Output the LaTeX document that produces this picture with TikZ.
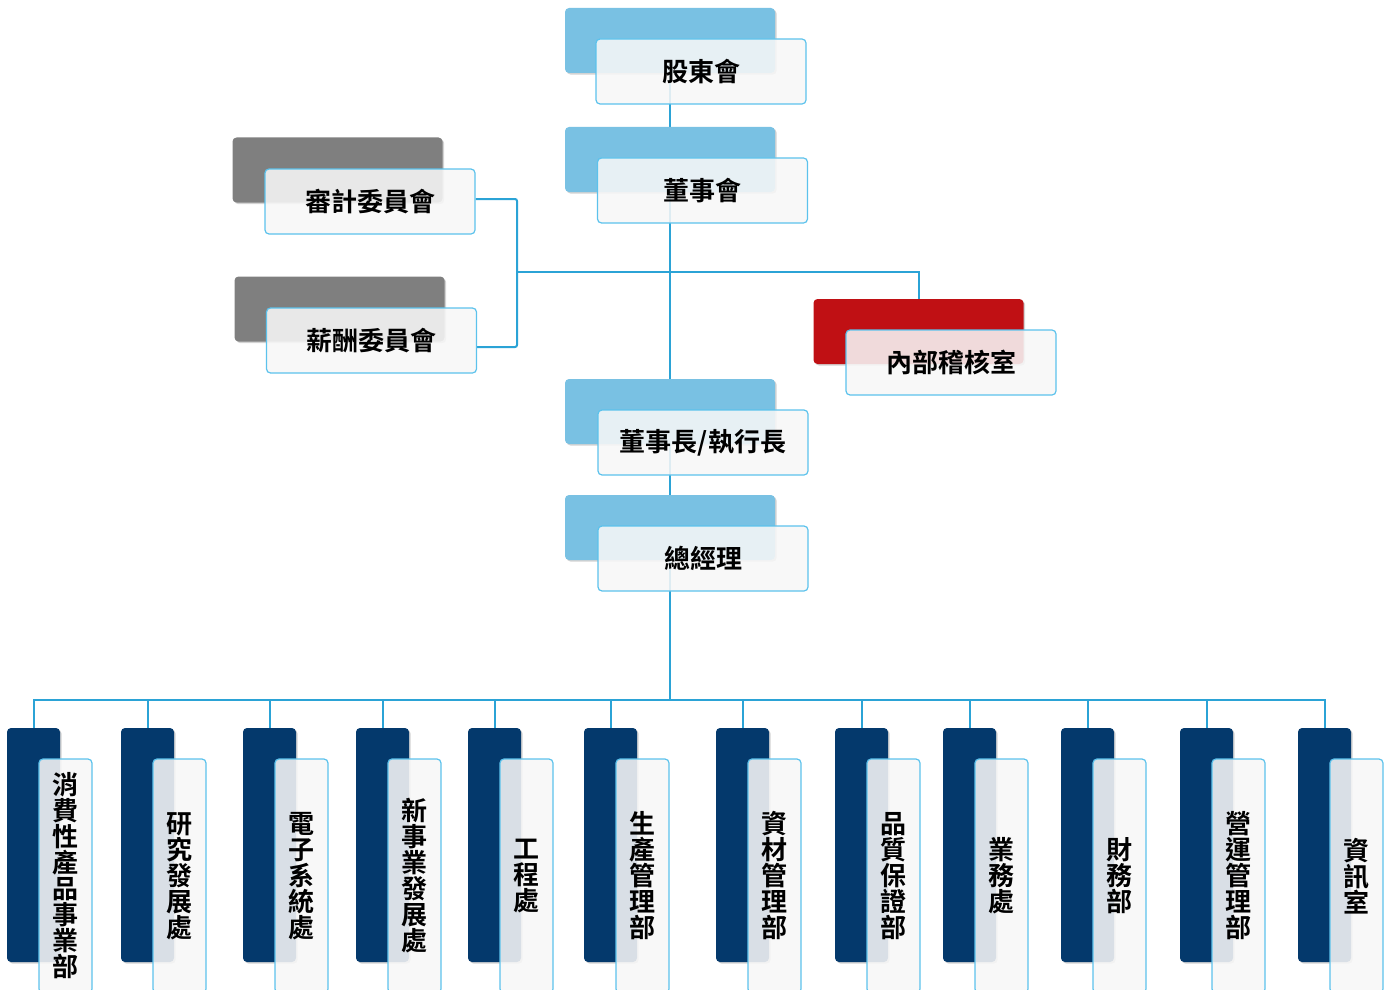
\documentclass[tikz,border=0pt]{standalone}
\usepackage{fontspec}
\newfontfamily\cjk{Noto Sans CJK TC}[BoldFont={Noto Sans CJK TC Bold}]
\usetikzlibrary{shadows,backgrounds}

\definecolor{linkblue}{HTML}{2BA3D6}
\definecolor{skyback}{HTML}{79C1E3}
\definecolor{greyback}{HTML}{7F7F7F}
\definecolor{redback}{HTML}{C01014}
\definecolor{navyback}{HTML}{04396C}
\definecolor{frameblue}{HTML}{5CC2EC}

\tikzset{
  unitback/.style={rounded corners=2pt, inner sep=0pt, outer sep=0pt,
    minimum width=105pt, minimum height=32.5pt,
    drop shadow={shadow xshift=0.8pt, shadow yshift=-0.8pt, opacity=0.35}},
  unitfront/.style={draw=frameblue, line width=0.6pt, fill=black!3,
    fill opacity=0.88, text opacity=1, rounded corners=2pt, inner sep=0pt,
    minimum width=105pt, minimum height=32.5pt,
    font=\cjk\bfseries\fontsize{13pt}{13pt}\selectfont},
  deptback/.style={unitback, minimum width=26.5pt, minimum height=117pt, fill=navyback},
  deptfront/.style={unitfront, minimum width=26.5pt, minimum height=117pt, align=center},
  link/.style={draw=linkblue, line width=1pt}
}

\begin{document}
\begin{tikzpicture}[x=0.5pt,y=-0.5pt]
  \useasboundingbox (0,0) rectangle (1392,990);

  % board and committees
  \node[unitback, fill=skyback] (gd-b) at (670,40.5) {};
  \node[unitfront] (gd) at (701,71.5) {股東會};
  \node[unitback, fill=skyback] (ds-b) at (670,159.5) {};
  \node[unitfront] (ds) at (702.5,190.5) {董事會};
  \node[unitback, fill=greyback] (au-b) at (337.5,170) {};
  \node[unitfront] (au) at (370,201.5) {審計委員會};
  \node[unitback, fill=greyback] (rc-b) at (339.5,309) {};
  \node[unitfront] (rc) at (371.5,340.5) {薪酬委員會};
  \node[unitback, fill=redback] (ia-b) at (918.5,331.5) {};
  \node[unitfront] (ia) at (951,362.5) {內部稽核室};
  \node[unitback, fill=skyback] (ceo-b) at (670,411.5) {};
  \node[unitfront] (ceo) at (703,442.5) {董事長/執行長};
  \node[unitback, fill=skyback] (gm-b) at (670,527.5) {};
  \node[unitfront] (gm) at (703,558.5) {總經理};

  % departments
  \foreach \n/\x/\t in {
      1/33.5/消\\費\\性\\產\\品\\事\\業\\部,
      2/147.5/研\\究\\發\\展\\處,
      3/269.5/電\\子\\系\\統\\處,
      4/382.5/新\\事\\業\\發\\展\\處,
      5/494.5/工\\程\\處,
      6/610.5/生\\產\\管\\理\\部,
      7/742.5/資\\材\\管\\理\\部,
      8/861.5/品\\質\\保\\證\\部,
      9/969.5/業\\務\\處,
      10/1087.5/財\\務\\部,
      11/1206.5/營\\運\\管\\理\\部,
      12/1324.5/資\\訊\\室} {
    \node[deptback] (d\n-b) at (\x,845) {};
    \node[deptfront] (d\n) at (\x+32,876) {\t};
  }

  \coordinate (bus) at (670,700);
  \coordinate (brk) at (517,272);

  \begin{scope}[on background layer]
    \draw[link] (gd-b.center) -- (ds-b.center);
    \draw[link] (ds-b.center) -- (ceo-b.center);
    \draw[link] (ceo-b.center) -- (gm-b.center);
    \draw[link, rounded corners=1pt] ([yshift=1.25pt]au.east) -| (brk) |- ([yshift=-3.25pt]rc.east);
    \draw[link] (brk) -- (brk -| ds-b.center) -| (ia-b.center);
    \draw[link] (gm-b.center) -- (bus);
    \foreach \n in {1,...,12}
      \draw[link] (bus) -| (d\n-b.center);
  \end{scope}
\end{tikzpicture}
\end{document}
